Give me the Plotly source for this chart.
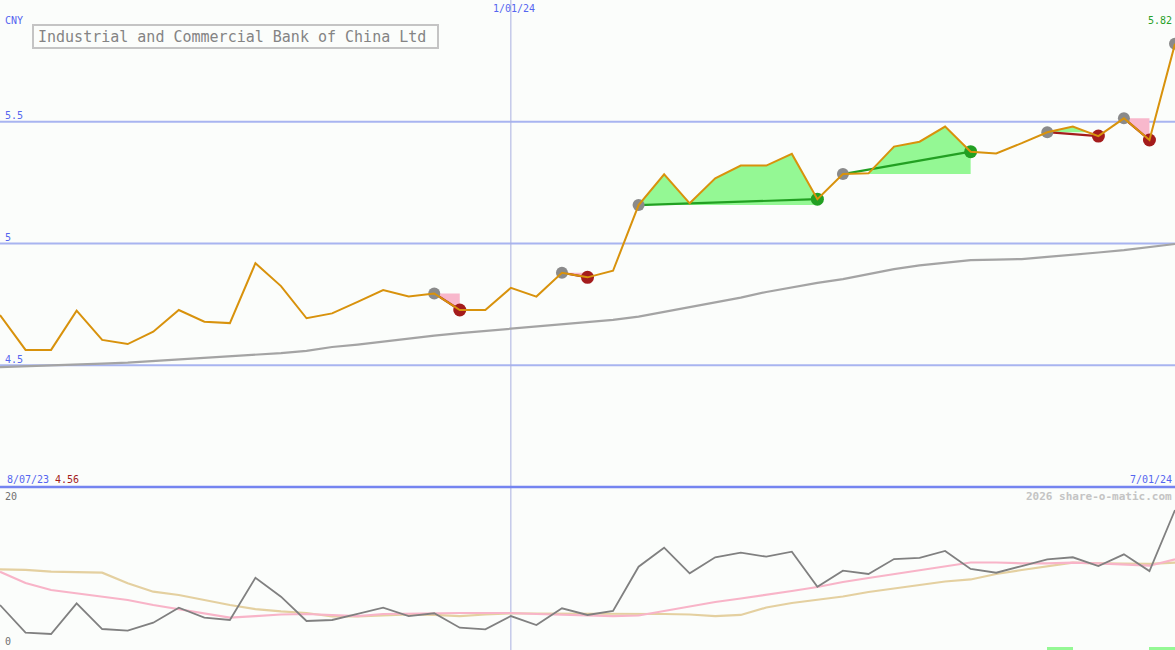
import plotly.graph_objects as go

W, H = 1175, 650

# ---------------- data ----------------
weeks = list(range(47))
price = [4.706, 4.563, 4.563, 4.724, 4.604, 4.587, 4.638, 4.727, 4.679, 4.673,
         4.919, 4.825, 4.693, 4.713, 4.760, 4.809, 4.782, 4.795, 4.727, 4.727,
         4.818, 4.782, 4.880, 4.861, 4.888, 5.158, 5.284, 5.165, 5.268, 5.320,
         5.320, 5.368, 5.182, 5.285, 5.288, 5.398, 5.418, 5.480, 5.377, 5.370,
         5.412, 5.457, 5.480, 5.441, 5.514, 5.425, 5.820]
moving_avg = [4.492, 4.495, 4.499, 4.503, 4.507, 4.511, 4.517, 4.524, 4.530, 4.536,
              4.542, 4.550, 4.559, 4.575, 4.585, 4.598, 4.610, 4.622, 4.632, 4.641,
              4.649, 4.659, 4.669, 4.678, 4.686, 4.700, 4.719, 4.737, 4.756, 4.778,
              4.801, 4.821, 4.838, 4.854, 4.875, 4.895, 4.910, 4.922, 4.932, 4.934,
              4.936, 4.945, 4.953, 4.963, 4.973, 4.986, 4.998]
osc_main = [5.92, 2.28, 2.11, 6.14, 2.76, 2.54, 3.59, 5.57, 4.25, 3.95,
            9.51, 7.01, 3.82, 3.95, 4.74, 5.57, 4.47, 4.83, 2.93, 2.72,
            4.47, 3.29, 5.49, 4.61, 5.13, 10.96, 13.46, 10.09, 12.20, 12.80,
            12.28, 12.93, 8.33, 10.43, 10.00, 11.97, 12.11, 13.03, 10.66, 10.17,
            11.05, 11.93, 12.20, 11.05, 12.59, 10.39, 18.42]
osc_fast = [10.30, 8.82, 7.89, 7.46, 6.97, 6.58, 5.92, 5.39, 4.87, 4.25,
            4.47, 4.67, 4.74, 4.61, 4.47, 4.74, 4.80, 4.83, 4.87, 4.87,
            4.87, 4.74, 4.67, 4.61, 4.47, 4.54, 5.13, 5.79, 6.32, 6.78,
            7.24, 7.76, 8.29, 8.95, 9.47, 10.00, 10.53, 11.05, 11.51, 11.51,
            11.41, 11.41, 11.49, 11.41, 11.28, 11.09, 11.93]
osc_slow = [10.62, 10.53, 10.30, 10.20, 10.17, 8.78, 7.67, 7.24, 6.58, 5.92,
            5.39, 5.07, 4.87, 4.41, 4.41, 4.54, 4.67, 4.61, 4.47, 4.67,
            4.83, 4.80, 4.80, 4.74, 4.74, 4.74, 4.74, 4.67, 4.47, 4.61,
            5.59, 6.18, 6.58, 7.04, 7.63, 8.09, 8.49, 9.01, 9.28, 10.00,
            10.53, 11.05, 11.49, 11.41, 11.38, 11.32, 11.49]
entries = [17, 22, 25, 33, 41, 44, 46]
exits = [18, 23, 32, 38, 43, 45]
flag_weeks = [41, 45]
flag_height = [0.42, 0.42]

title = "Industrial and Commercial Bank of China Ltd"
currency = "CNY"
price_ticks = [5.5, 5.0, 4.5]
price_tick_labels = ["5.5", "5", "4.5"]
start_label, end_label, mid_label = "8/07/23", "7/01/24", "1/01/24"
mid_week = 20
low_label = "4.56"
last_label = "5.82"
osc_labels = ["20", "0"]
credit = "2026 share-o-matic.com"

# ---------------- style ----------------
BG = "#fbfdfb"
MONO = "DejaVu Sans Mono"
BLUE_TXT = "#5566f0"
GRID = "#a8b4f0"
SEP = "#7484f0"
GREEN_FILL = "#94f894"
PINK_FILL = "#f8b8cc"
GREEN = "#22a022"
RED = "#a41c1c"
GRAYDOT = "#8a8a8a"
PRICE_C = "#d8920c"
MA_C = "#a4a4a4"

P_TOP, P_BOT = 0, 487          # price panel pixel rows
O_TOP, O_BOT = 489, 650        # oscillator panel pixel rows
P_RANGE = [4.0, 6.0]
O_RANGE = [0, (O_BOT - O_TOP) / 7.6]


def px(x):
    return x / W


def py(y):
    return 1 - y / H


fig = go.Figure()


def trade_polys(i0, i1):
    base = price[i0]
    xs, ys = [], []
    for k in range(i0, i1 + 1):
        xs.append(k)
        ys.append(price[k])
        if k < i1:
            d0 = price[k] - base
            d1 = price[k + 1] - base
            if d0 * d1 < 0:
                t = d0 / (d0 - d1)
                xs.append(k + t)
                ys.append(base)
    up = [max(v, base) for v in ys]
    dn = [min(v, base) for v in ys]
    back = [base] * len(xs)
    return xs + xs[::-1], up + back, dn + back, base


# fills
for i0, i1 in zip(entries, exits):
    xs, up, dn, base = trade_polys(i0, i1)
    if max(up) - base > 1e-9:
        fig.add_trace(go.Scatter(x=xs, y=up, fill="toself", fillcolor=GREEN_FILL,
                                 mode="lines", line=dict(width=0), hoverinfo="skip",
                                 showlegend=False, xaxis="x", yaxis="y"))
    if base - min(dn) > 1e-9:
        fig.add_trace(go.Scatter(x=xs, y=dn, fill="toself", fillcolor=PINK_FILL,
                                 mode="lines", line=dict(width=0), hoverinfo="skip",
                                 showlegend=False, xaxis="x", yaxis="y"))

# moving average
fig.add_trace(go.Scatter(x=weeks, y=moving_avg, mode="lines",
                         line=dict(color=MA_C, width=2.2), showlegend=False,
                         hoverinfo="skip", xaxis="x", yaxis="y"))

# trade lines
for i0, i1 in zip(entries, exits):
    c = GREEN if price[i1] > price[i0] else RED
    fig.add_trace(go.Scatter(x=[i0, i1], y=[price[i0], price[i1]], mode="lines",
                             line=dict(color=c, width=2.2), showlegend=False,
                             hoverinfo="skip", xaxis="x", yaxis="y"))

# dots
fig.add_trace(go.Scatter(x=entries, y=[price[i] for i in entries], mode="markers",
                         marker=dict(color=GRAYDOT, size=12, line=dict(width=0)),
                         showlegend=False, hoverinfo="skip", xaxis="x", yaxis="y"))
exit_cols = [GREEN if price[j] > price[i] else RED for i, j in zip(entries, exits)]
fig.add_trace(go.Scatter(x=exits, y=[price[j] for j in exits], mode="markers",
                         marker=dict(color=exit_cols, size=13, line=dict(width=0)),
                         showlegend=False, hoverinfo="skip", xaxis="x", yaxis="y"))

# price
fig.add_trace(go.Scatter(x=weeks, y=price, mode="lines",
                         line=dict(color=PRICE_C, width=2), showlegend=False,
                         hoverinfo="skip", xaxis="x", yaxis="y"))

# oscillator panel
fig.add_trace(go.Bar(x=[w + 0.5 for w in flag_weeks], y=flag_height, width=1,
                     marker=dict(color="#94f894", line=dict(width=0)),
                     showlegend=False, hoverinfo="skip", xaxis="x2", yaxis="y2"))
fig.add_trace(go.Scatter(x=weeks, y=osc_slow, mode="lines",
                         line=dict(color="#e4d0a0", width=2.2), showlegend=False,
                         hoverinfo="skip", xaxis="x2", yaxis="y2"))
fig.add_trace(go.Scatter(x=weeks, y=osc_fast, mode="lines",
                         line=dict(color="#f8b4c8", width=2.2), showlegend=False,
                         hoverinfo="skip", xaxis="x2", yaxis="y2"))
fig.add_trace(go.Scatter(x=weeks, y=osc_main, mode="lines",
                         line=dict(color="#808080", width=1.8), showlegend=False,
                         hoverinfo="skip", xaxis="x2", yaxis="y2"))

shapes = []
for v in price_ticks:
    shapes.append(dict(type="line", xref="paper", yref="y", x0=0, x1=1, y0=v, y1=v,
                       line=dict(color=GRID, width=2), layer="below"))
shapes.append(dict(type="line", xref="paper", yref="paper", x0=0, x1=1,
                   y0=py(487), y1=py(487), line=dict(color=SEP, width=2.5)))
shapes.append(dict(type="line", xref="x", yref="paper", x0=mid_week, x1=mid_week,
                   y0=0, y1=1, line=dict(color="#a8b0e0", width=1), layer="below"))
shapes.append(dict(type="rect", xref="paper", yref="paper", x0=px(33), x1=px(438),
                   y0=py(48), y1=py(25), line=dict(color="#c4c4c4", width=2),
                   fillcolor=BG))

ann = []


def txt(text, x, y, color, size=10, anchor="left", bold=False):
    ann.append(dict(text=text, x=px(x), y=py(y), xref="paper", yref="paper",
                    xanchor=anchor, yanchor="middle", showarrow=False,
                    borderpad=0,
                    font=dict(family=MONO, size=size, color=color,
                              weight="bold" if bold else "normal")))


txt(currency, 4, 21, BLUE_TXT)
txt(title, 37, 37, "#848484", size=15)
txt(mid_label, 514, 9, BLUE_TXT, anchor="center")
txt(last_label, 1173, 21, "#28a028", anchor="right")
for v, lab in zip(price_ticks, price_tick_labels):
    ypix = P_BOT - (v - P_RANGE[0]) / (P_RANGE[1] - P_RANGE[0]) * (P_BOT - P_TOP)
    txt(lab, 4, ypix - 6, BLUE_TXT)
txt(start_label, 6, 479, BLUE_TXT)
txt(low_label, 54, 479, RED)
txt(end_label, 1173, 479, BLUE_TXT, anchor="right")
txt(osc_labels[0], 4, 496, "#707070")
txt(osc_labels[1], 4, 641, "#707070")
txt(credit, 1173, 496, "#c4c4c4", size=11, anchor="right", bold=True)

ax_common = dict(showgrid=False, zeroline=False, showticklabels=False, ticks="",
                 showline=False, fixedrange=True)
fig.update_layout(
    width=W, height=H, margin=dict(l=0, r=0, t=0, b=0),
    paper_bgcolor=BG, plot_bgcolor=BG, showlegend=False,
    xaxis=dict(range=[0, 46], domain=[0, 1], anchor="y", **ax_common),
    yaxis=dict(range=P_RANGE, domain=[py(P_BOT), 1], anchor="x", **ax_common),
    xaxis2=dict(range=[0, 46], domain=[0, 1], anchor="y2", **ax_common),
    yaxis2=dict(range=O_RANGE, domain=[0, py(O_TOP)], anchor="x2", **ax_common),
    shapes=shapes, annotations=ann, bargap=0,
)

fig.write_html("out.html", config={"displayModeBar": False},
               post_script="document.body.style.margin='0';")
